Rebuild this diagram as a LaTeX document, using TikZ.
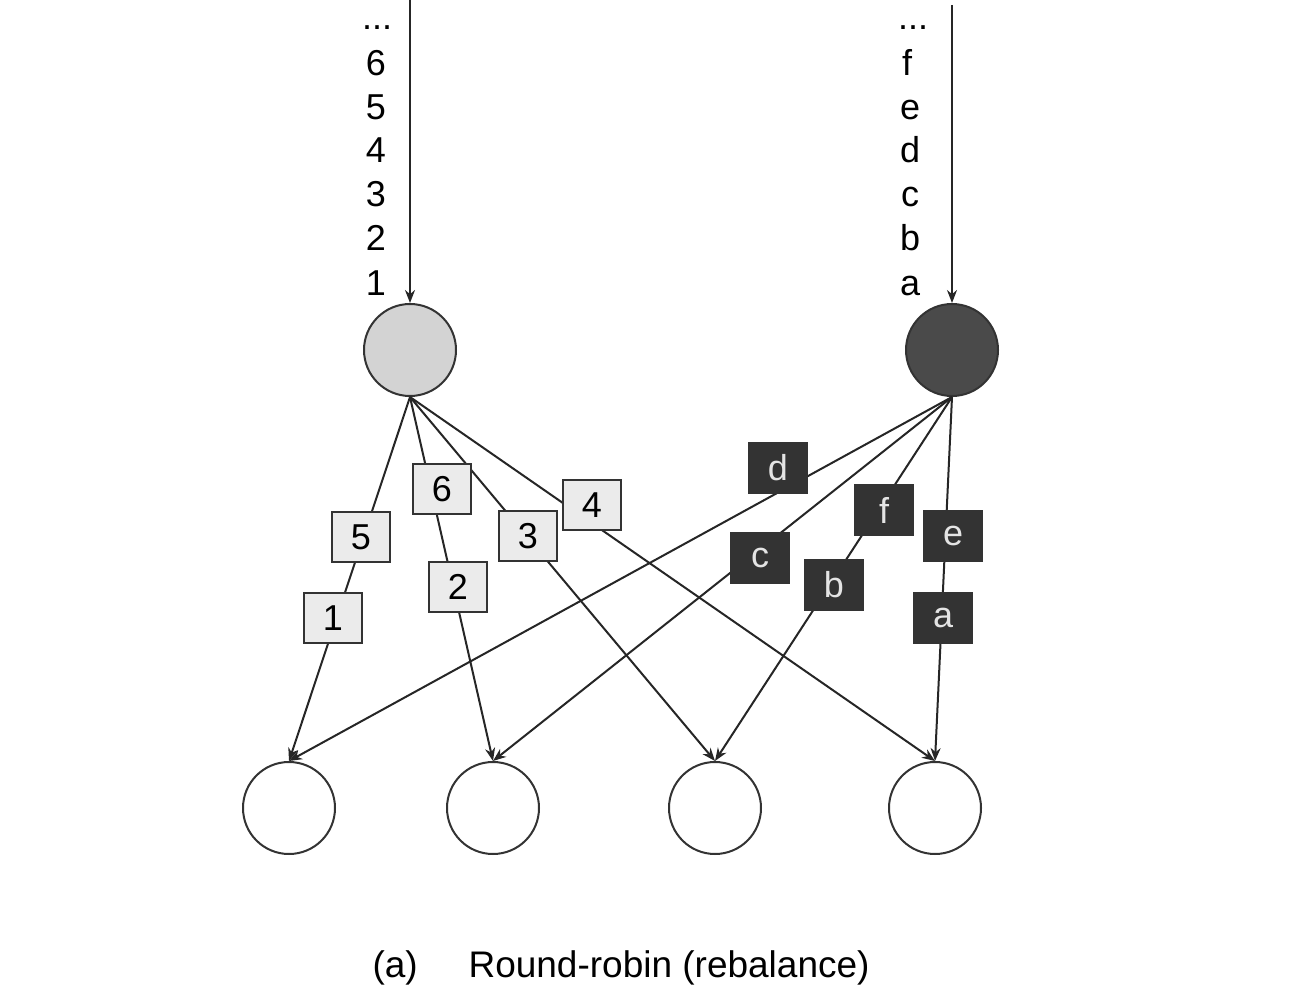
\documentclass[tikz,border=0pt]{standalone}
\usepackage{fontspec}
\setmainfont{Liberation Sans}
\usetikzlibrary{arrows.meta}
\definecolor{edgec}{HTML}{333333}
\definecolor{lightfill}{HTML}{D3D3D3}
\definecolor{darkfill}{HTML}{4A4A4A}
\definecolor{lbox}{HTML}{EBEBEB}
\definecolor{dbox}{HTML}{333333}
\definecolor{dtext}{HTML}{E4E4E4}
\tikzset{
  every node/.style={font=\fontsize{36}{40}\selectfont},
  circ/.style={circle, draw=edgec, line width=2pt, minimum size=92pt, inner sep=0pt},
  lightbox/.style={draw=edgec, fill=lbox, line width=2pt, minimum width=58pt, minimum height=50pt, inner sep=0pt},
  darkbox/.style={draw=black!80, fill=dbox, text=dtext, line width=2pt, minimum width=58pt, minimum height=50pt, inner sep=0pt},
  conn/.style={draw=black!85, line width=2pt, -{Stealth[length=13pt,width=10pt]}},
  seq/.style={inner sep=0pt, anchor=base},
}
\begin{document}
\begin{tikzpicture}[x=1pt,y=-1pt]
\useasboundingbox (0,0) rectangle (1290,1000);
% top circles
\node[circ, fill=lightfill] (t1) at (410,350) {};
\node[circ, fill=darkfill] (t2) at (952,350) {};
% bottom circles
\node[circ, fill=white] (b1) at (289,808) {};
\node[circ, fill=white] (b2) at (493,808) {};
\node[circ, fill=white] (b3) at (715,808) {};
\node[circ, fill=white] (b4) at (935,808) {};
% input arrows
\coordinate (in1) at (410,0);
\coordinate (in2) at (952,5);
\draw[conn] (in1) -- (t1.north);
\draw[conn] (in2) -- (t2.north);
% sequence labels
\node[seq] (l0) at (377,30) {...};
\node[seq] (l6) at (376,76) {6};
\node[seq] (l5) at (376,120) {5};
\node[seq] (l4) at (376,163) {4};
\node[seq] (l3) at (376,207) {3};
\node[seq] (l2) at (376,251) {2};
\node[seq] (l1) at (376,295) {1};
\node[seq] (r0) at (913,30) {...};
\node[seq] (rf) at (907,76) {f};
\node[seq] (re) at (910,120) {e};
\node[seq] (rd) at (910,163) {d};
\node[seq] (rc) at (910,207) {c};
\node[seq] (rb) at (910,251) {b};
\node[seq] (ra) at (910,295) {a};
% connectors
\draw[conn] (t1.south) -- (b1.north);
\draw[conn] (t1.south) -- (b2.north);
\draw[conn] (t1.south) -- (b3.north);
\draw[conn] (t1.south) -- (b4.north);
\draw[conn] (t2.south) -- (b1.north);
\draw[conn] (t2.south) -- (b2.north);
\draw[conn] (t2.south) -- (b3.north);
\draw[conn] (t2.south) -- (b4.north);
% message boxes
\node[lightbox] (m5) at (361,537) {5};
\node[lightbox] (m1) at (333,618) {1};
\node[lightbox] (m6) at (442,489) {6};
\node[lightbox] (m2) at (458,587) {2};
\node[lightbox] (m3) at (528,536) {3};
\node[lightbox] (m4) at (592,505) {4};
\node[darkbox] (md) at (778,468) {d};
\node[darkbox] (mc) at (760,558) {c};
\node[darkbox] (mf) at (884,510) {f};
\node[darkbox] (mb) at (834,585) {b};
\node[darkbox] (me) at (953,536) {e};
\node[darkbox] (ma) at (943,618) {a};
% caption
\node[anchor=base west, font=\fontsize{37}{42}\selectfont] (cap1) at (369,977) {(a)};
\node[anchor=base west, font=\fontsize{37}{42}\selectfont] (cap2) at (465,977) {Round-robin (rebalance)};
\end{tikzpicture}
\end{document}
